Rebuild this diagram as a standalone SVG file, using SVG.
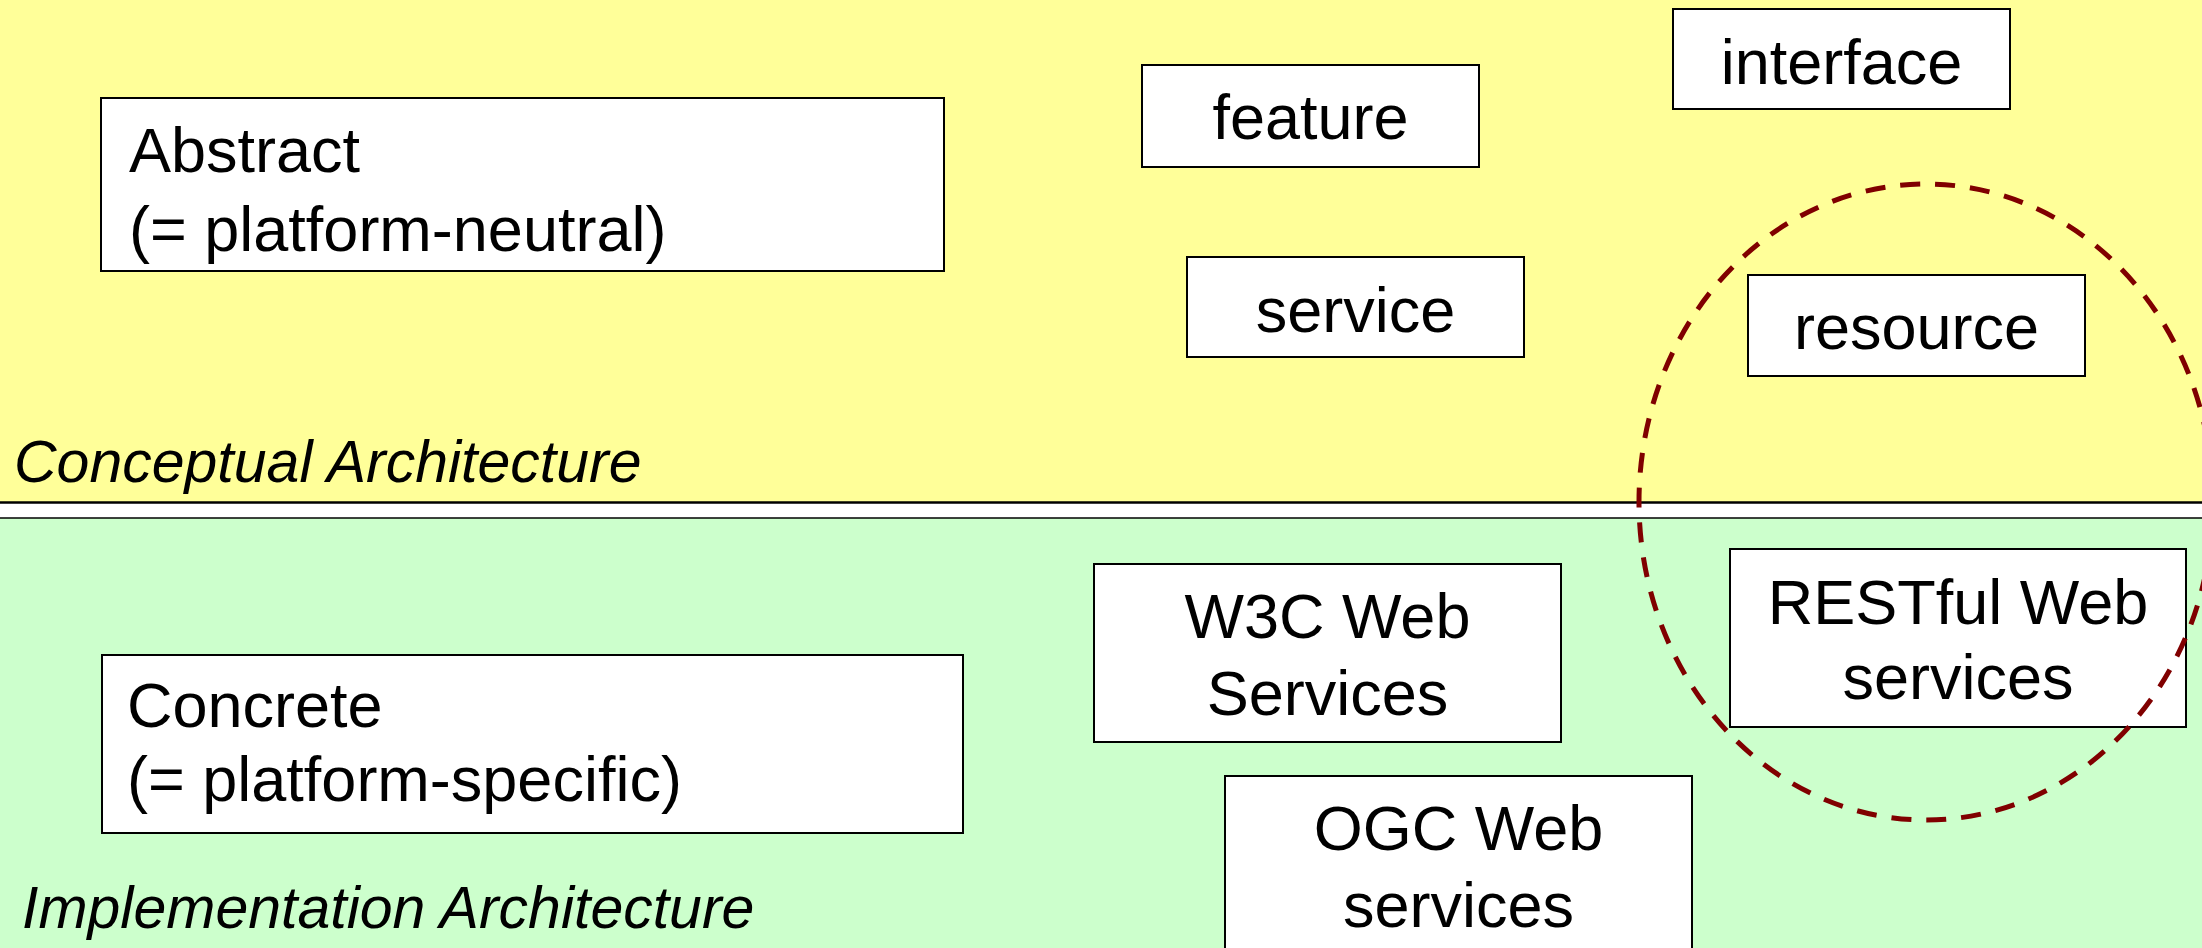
<svg xmlns="http://www.w3.org/2000/svg" width="2202" height="948" viewBox="0 0 2202 948">
<style>
.box{fill:#ffffff;stroke:#000000;stroke-width:2}
.t{font-family:"Liberation Sans",Arial,sans-serif;font-size:63px;fill:#000000}
.c{text-anchor:middle}
.lbl{font-family:"Liberation Sans",Arial,sans-serif;font-size:59px;font-style:italic;fill:#000000}
.sep{stroke:#000000;fill:none}
</style>
<g id="background">
<rect x="0" y="0" width="2202" height="503" fill="#FFFF99"/>
<rect x="0" y="503" width="2202" height="15" fill="#ffffff"/>
<rect x="0" y="518" width="2202" height="430" fill="#CCFFCC"/>
<line class="sep" x1="0" y1="502.5" x2="2202" y2="502.5" stroke-width="2.5"/>
<line class="sep" x1="0" y1="518" x2="2202" y2="518" stroke-width="1.5"/>
</g>
<g id="labels">
<text class="lbl" x="14" y="482">Conceptual Architecture</text>
<text class="lbl" x="22" y="928">Implementation Architecture</text>
</g>
<g id="abstract">
<rect class="box" x="101" y="98" width="843" height="173"/>
<text class="t" x="129" y="172">Abstract</text>
<text class="t" x="129" y="251">(= platform-neutral)</text>
</g>
<g id="concrete">
<rect class="box" x="102" y="655" width="861" height="178"/>
<text class="t" x="127" y="727">Concrete</text>
<text class="t" x="127" y="801">(= platform-specific)</text>
</g>
<g id="feature">
<rect class="box" x="1142" y="65" width="337" height="102"/>
<text class="t c" x="1310.5" y="139">feature</text>
</g>
<g id="interface">
<rect class="box" x="1673" y="9" width="337" height="100"/>
<text class="t c" x="1841.5" y="84">interface</text>
</g>
<g id="service">
<rect class="box" x="1187" y="257" width="337" height="100"/>
<text class="t c" x="1355.5" y="332">service</text>
</g>
<g id="resource">
<rect class="box" x="1748" y="275" width="337" height="101"/>
<text class="t c" x="1916.5" y="349">resource</text>
</g>
<g id="w3c">
<rect class="box" x="1094" y="564" width="467" height="178"/>
<text class="t c" x="1327.5" y="638">W3C Web</text>
<text class="t c" x="1327.5" y="715">Services</text>
</g>
<g id="ogc">
<rect class="box" x="1225" y="776" width="467" height="190"/>
<text class="t c" x="1458.5" y="850">OGC Web</text>
<text class="t c" x="1458.5" y="927">services</text>
</g>
<g id="restful">
<rect class="box" x="1730" y="549" width="456" height="178"/>
<text class="t c" x="1958" y="624">RESTful Web</text>
<text class="t c" x="1958" y="699">services</text>
</g>
<g id="connectors">
<ellipse cx="1926" cy="502" rx="287" ry="318" fill="none" stroke="#800000" stroke-width="5" stroke-dasharray="20 15"/>
</g>
</svg>
